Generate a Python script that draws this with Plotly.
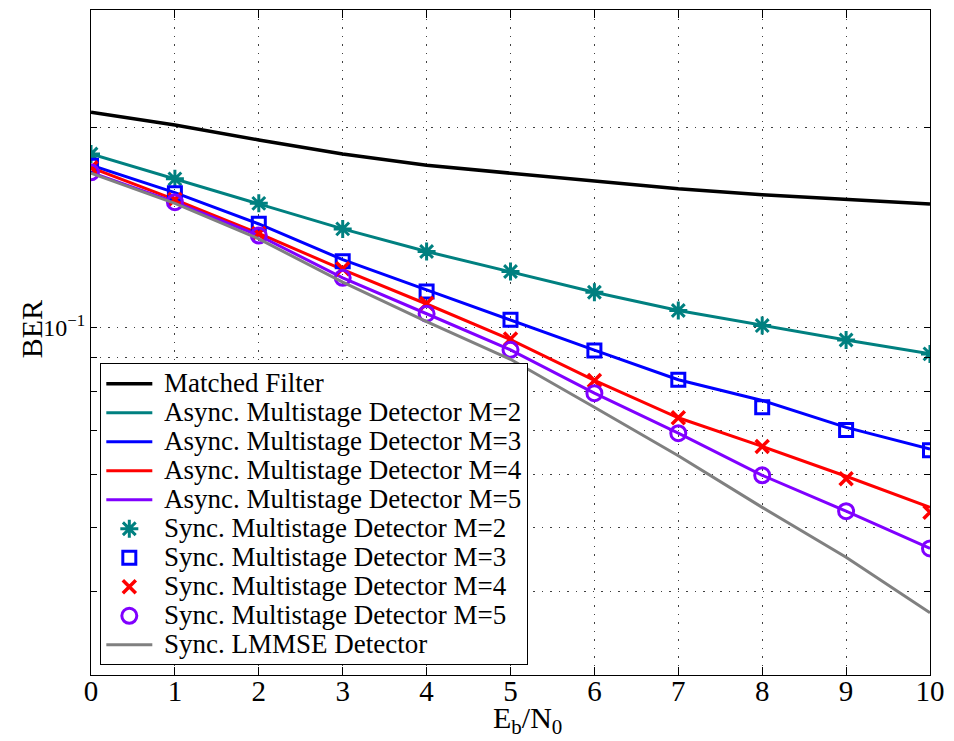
import plotly.graph_objects as go

# Eb/N0 in dB
snr_db = [0, 1, 2, 3, 4, 5, 6, 7, 8, 9, 10]

# Bit error rates
ber_matched_filter = [0.2105, 0.2015, 0.1913, 0.1822, 0.1752, 0.1705, 0.1662, 0.1615, 0.1583, 0.1556, 0.1533]
ber_async_m2 = [0.1822, 0.1672, 0.1536, 0.1406, 0.1300, 0.1213, 0.1129, 0.1060, 0.1006, 0.0957, 0.0912]
ber_async_m3 = [0.1753, 0.1594, 0.1430, 0.1264, 0.1138, 0.1025, 0.0924, 0.0834, 0.0776, 0.0707, 0.0656]
ber_async_m4 = [0.1738, 0.1556, 0.1384, 0.1221, 0.1084, 0.0958, 0.0832, 0.0731, 0.0662, 0.0597, 0.0536]
ber_async_m5 = [0.1710, 0.1542, 0.1374, 0.1187, 0.1048, 0.0925, 0.0796, 0.0693, 0.0599, 0.0529, 0.0465]
ber_sync_m2 = [0.1822, 0.1672, 0.1536, 0.1406, 0.1300, 0.1213, 0.1129, 0.1060, 0.1006, 0.0957, 0.0912]
ber_sync_m3 = [0.1750, 0.1590, 0.1431, 0.1257, 0.1132, 0.1026, 0.0923, 0.0834, 0.0758, 0.0701, 0.0653]
ber_sync_m4 = [0.1738, 0.1556, 0.1384, 0.1225, 0.1086, 0.0960, 0.0832, 0.0731, 0.0662, 0.0592, 0.0527]
ber_sync_m5 = [0.1710, 0.1542, 0.1374, 0.1187, 0.1048, 0.0925, 0.0796, 0.0693, 0.0599, 0.0529, 0.0465]
ber_lmmse = [0.1705, 0.1536, 0.1358, 0.1169, 0.1020, 0.0895, 0.0758, 0.0641, 0.0536, 0.0451, 0.0372]

# y tick positions (log grid) and their labels
y_tick_vals = [0.03, 0.04, 0.05, 0.06, 0.07, 0.08, 0.09, 0.1, 0.2, 0.3]
y_tick_text = ["", "", "", "", "", "", "", "10<sup>\u22121</sup>", "", ""]

FONT = "Liberation Serif"
TEAL = "#008080"
BLUE = "#0000FF"
RED = "#FF0000"
PURPLE = "#8000FF"
GRAY = "#808080"


def label(text):
    # larger text inside the legend while keeping compact row spacing
    return f"<span style='font-size:27px'>&nbsp;{text}</span>"


fig = go.Figure()

line_series = [
    ("Matched Filter", ber_matched_filter, "black", 3.5),
    ("Async. Multistage Detector M=2", ber_async_m2, TEAL, 3),
    ("Async. Multistage Detector M=3", ber_async_m3, BLUE, 3),
    ("Async. Multistage Detector M=4", ber_async_m4, RED, 3),
    ("Async. Multistage Detector M=5", ber_async_m5, PURPLE, 3),
]
for name, vals, color, width in line_series:
    fig.add_trace(go.Scatter(
        x=snr_db, y=vals, mode="lines", name=label(name),
        line=dict(color=color, width=width),
    ))

marker_series = [
    ("Sync. Multistage Detector M=2", ber_sync_m2, TEAL, "asterisk-open", 15, 3),
    ("Sync. Multistage Detector M=3", ber_sync_m3, BLUE, "square-open", 13, 3),
    ("Sync. Multistage Detector M=4", ber_sync_m4, RED, "x-thin-open", 13, 3.5),
    ("Sync. Multistage Detector M=5", ber_sync_m5, PURPLE, "circle-open", 15, 3),
]
for name, vals, color, symbol, size, lw in marker_series:
    fig.add_trace(go.Scatter(
        x=snr_db, y=vals, mode="markers", name=label(name),
        marker=dict(symbol=symbol, size=size, color=color,
                    line=dict(color=color, width=lw)),
    ))

fig.add_trace(go.Scatter(
    x=snr_db, y=ber_lmmse, mode="lines", name=label("Sync. LMMSE Detector"),
    line=dict(color=GRAY, width=3),
))

grid_style = dict(showgrid=True, gridcolor="rgba(0,0,0,0.75)", gridwidth=1, griddash="1.5px,7px")

fig.update_xaxes(
    range=[0, 10], tickmode="linear", tick0=0, dtick=1,
    ticks="inside", ticklen=8, tickcolor="black", tickwidth=1,
    showline=True, linecolor="black", linewidth=1, mirror="ticks",
    tickfont=dict(family=FONT, size=29, color="black"),
    ticklabelstandoff=-10,
    zeroline=False, **grid_style,
)
fig.update_yaxes(
    type="log", range=[-1.5228787, -0.5228787],
    tickmode="array", tickvals=y_tick_vals, ticktext=y_tick_text,
    ticks="inside", ticklen=6, tickcolor="black", tickwidth=1,
    showline=True, linecolor="black", linewidth=1, mirror="ticks",
    tickfont=dict(family=FONT, size=24, color="black"),
    zeroline=False, **grid_style,
)

fig.add_annotation(
    text="BER", xref="paper", yref="paper", x=-0.0706, y=0.5195,
    textangle=-90, showarrow=False, xanchor="center", yanchor="middle",
    font=dict(family=FONT, size=30, color="black"),
)
fig.add_annotation(
    text="E<sub>b</sub>/N<sub>0</sub>", xref="paper", yref="paper", x=0.52, y=-0.036,
    showarrow=False, xanchor="center", yanchor="top",
    font=dict(family=FONT, size=30, color="black"),
)

fig.update_layout(
    width=954, height=741,
    margin=dict(l=91, r=18, t=9, b=66),
    paper_bgcolor="white", plot_bgcolor="white",
    font=dict(family=FONT, color="black"),
    showlegend=True,
    legend=dict(
        x=0.0111, y=0.0146, xanchor="left", yanchor="bottom",
        bgcolor="white", bordercolor="black", borderwidth=1,
        font=dict(family=FONT, size=20, color="black"),
        itemwidth=46, traceorder="normal",
    ),
)

fig.write_html("out.html")
